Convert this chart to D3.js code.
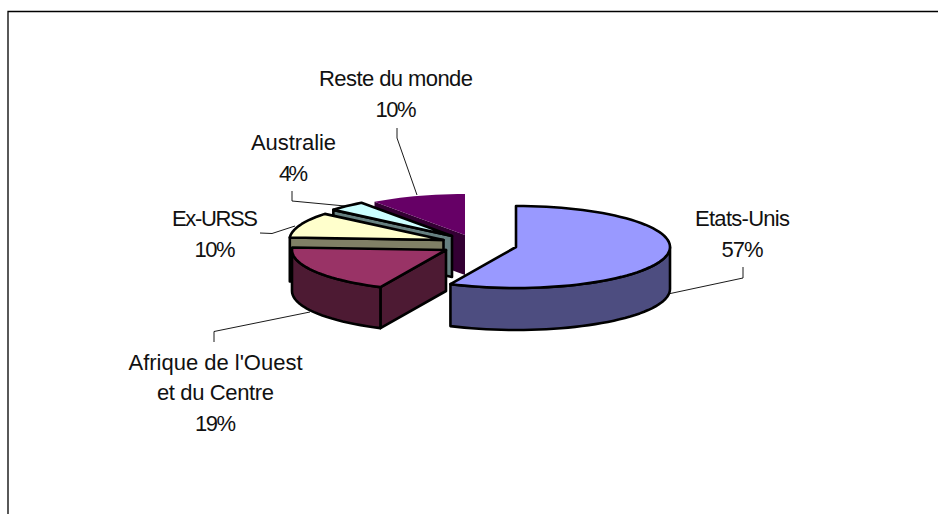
<!DOCTYPE html>
<html><head><meta charset="utf-8">
<script src="https://cdn.jsdelivr.net/npm/d3@7/dist/d3.min.js"></script>
<style>html,body{margin:0;padding:0;background:#fff;overflow:hidden}svg{display:block}
text{font-family:"Liberation Sans",Arial,sans-serif;font-size:22px;fill:#111;text-anchor:middle}</style>
</head><body><svg id="c" width="938" height="514"></svg>
<script>
const categories = ["Etats-Unis", "Afrique de l'Ouest et du Centre", "Ex-URSS", "Australie", "Reste du monde"];
const values = [57, 19, 10, 4, 10];
const labelLines = [["Etats-Unis"], ["Afrique de l'Ouest", "et du Centre"], ["Ex-URSS"], ["Australie"], ["Reste du monde"]];
const labelWidths = [[95, 42], [174, 117, 41], [86, 41], [85, 29], [154, 41]];
const topColors = ["#9999ff", "#993366", "#ffffcc", "#ccffff", "#660066"];
const sideColors = ["#4d4d80", "#4d1a33", "#808066", "#668080", "#330033"];
const strokes = ["#000", "#000", "#000", "#000", "none"];
const centers = [[516, 247], [446, 250], [443.5, 240], [452, 236], [465, 235]];
const depths = [42, 41, 44, 41, 40];
const labelPos = [[742.5, 226], [215.5, 369.5], [215, 226], [293.5, 150], [396, 86]];
const leaders = [
  [[743, 267], [743, 278], [668, 294]],
  [[214, 342], [214, 331.5], [310, 312]],
  [[260, 233], [272, 233.5], [295, 226]],
  [[292, 191], [292, 201], [345, 206]],
  [[397, 128], [397, 138], [417, 195]]
];
const RX = 154, RY = 41;
const svg = d3.select("#c");

svg.append("path").attr("d", "M8,514V11.5H938").attr("fill", "none").attr("stroke", "#000").attr("stroke-width", 1.3);

const arcs = d3.pie().sort(null)(values);
const pt = (i, a, dz = 0) => [centers[i][0] + RX * Math.sin(a), centers[i][1] - RY * Math.cos(a) + dz];
const rim = (i, a0, a1, dz = 0) => {
  const n = Math.max(2, Math.ceil((a1 - a0) / 0.05));
  return d3.range(n + 1).map(k => pt(i, a0 + (a1 - a0) * k / n, dz));
};
const line = d3.line();
const closed = p => line(p) + "Z";
const order = [4, 3, 2, 1, 0];

order.forEach(i => {
  const a = arcs[i], c = centers[i], d = depths[i];
  const g = svg.append("g").attr("stroke", strokes[i]).attr("stroke-width", 2.6).attr("stroke-linejoin", "round");
  const side = sideColors[i];
  if (a.startAngle >= Math.PI) {
    const r = pt(i, a.startAngle);
    g.append("path").attr("d", closed([c, r, [r[0], r[1] + d], [c[0], c[1] + d]])).attr("fill", side);
  }
  const lo = Math.max(a.startAngle, Math.PI / 2), hi = Math.min(a.endAngle, 3 * Math.PI / 2);
  if (hi > lo) {
    g.append("path").attr("d", closed(rim(i, lo, hi).concat(rim(i, lo, hi, d).reverse()))).attr("fill", side);
  }
  g.append("path").attr("d", closed([c].concat(rim(i, a.startAngle, a.endAngle)))).attr("fill", topColors[i]);
});

svg.append("g").selectAll("path").data(leaders).join("path")
  .attr("d", d => line(d)).attr("fill", "none").attr("stroke", "#000").attr("stroke-width", 0.9);

const total = d3.sum(values), fmt = d3.format(".0%");
categories.forEach((cat, i) => {
  const t = svg.append("text");
  labelLines[i].concat([fmt(values[i] / total)]).forEach((s, k) => {
    t.append("tspan").attr("x", labelPos[i][0]).attr("y", labelPos[i][1] + k * 30.5)
      .attr("textLength", labelWidths[i][k]).attr("lengthAdjust", "spacing").text(s);
  });
});
</script></body></html>
